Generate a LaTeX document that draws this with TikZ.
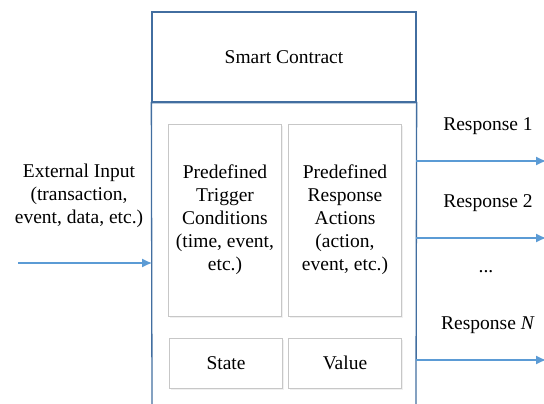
\documentclass[tikz,border=0pt]{standalone}
\usepackage{fontspec}
\setmainfont{Liberation Serif}
\usetikzlibrary{arrows.meta,shadows}

\definecolor{frameblue}{RGB}{66,110,160}
\definecolor{arrowblue}{RGB}{91,155,213}

\tikzset{
  frame/.style={draw=frameblue, line width=1.3pt},
  inbox/.style={draw=black!22, fill=white, line width=0.9pt, minimum width=113pt,
    align=center, drop shadow={opacity=0.12, shadow xshift=1.5pt, shadow yshift=-2pt}},
  flow/.style={draw=arrowblue, line width=1.2pt, -{Latex[length=10pt,width=9pt]}},
  lbl/.style={align=center, inner sep=0pt}
}

\begin{document}
\begin{tikzpicture}[x=1pt,y=-1pt]
    \fontsize{19.5}{23}\selectfont
    \useasboundingbox (0,0) rectangle (544,404);

    % Smart Contract (top part)
    \node[frame, minimum width=264pt, minimum height=90pt] (contract) at (284,57) {Smart Contract};

    % body of the contract, open at the bottom
    \coordinate (bl) at (152,404);
    \coordinate (br) at (416,404);
    \draw[frame] (bl) -- (contract.south west) -- (contract.south east) -- (br);

    % inner parts
    \node[inbox, minimum height=192pt] (trig) at (225,220) {Predefined\\Trigger\\Conditions\\(time, event,\\etc.)};
    \node[inbox, minimum height=192pt] (resp) at (345,220) {Predefined\\Response\\Actions\\(action,\\event, etc.)};
    \node[inbox, minimum height=50pt] (state) at (226,363) {State};
    \node[inbox, minimum height=50pt] (value) at (345,363) {Value};

    % external input
    \node[lbl] (input) at (79,196) {External Input\\(transaction,\\event, data, etc.)};
    \coordinate (inA) at (18,263);
    \coordinate (inB) at (152,263);
    \draw[flow] (inA) -- (inB);

    % responses
    \foreach \y/\t [count=\i] in {161/Response 1, 238/Response 2, 360/Response \textit{N}} {
        \coordinate (src\i) at (416,\y);
        \coordinate (dst\i) at (546,\y);
        \draw[flow] (src\i) -- (dst\i);
        \node[lbl] (rlabel\i) at (488,\y-35) {\t};
    }
    \node[lbl] (dots) at (486,272) {...};
\end{tikzpicture}
\end{document}
